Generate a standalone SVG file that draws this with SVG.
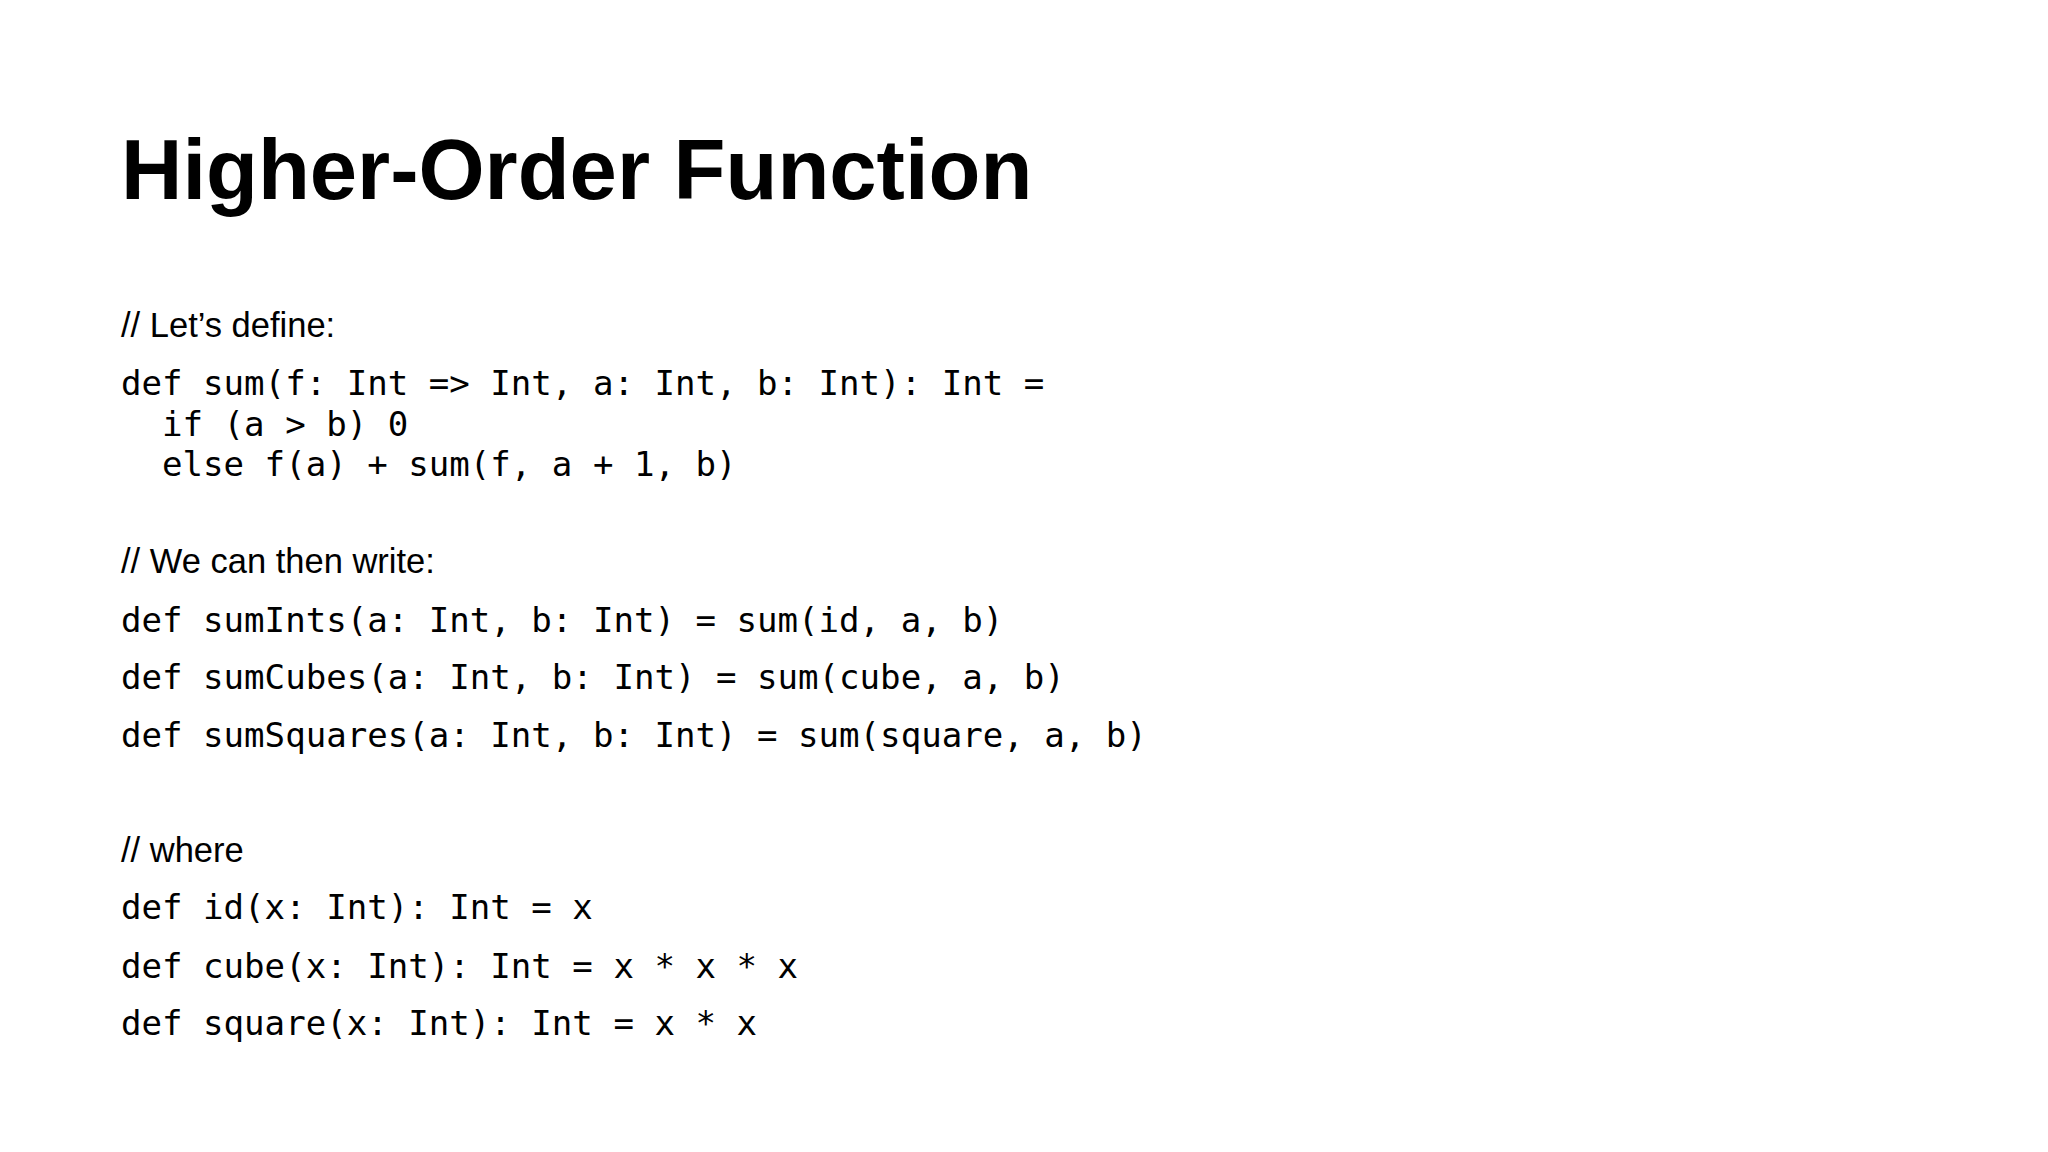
<svg xmlns="http://www.w3.org/2000/svg" width="2048" height="1152" viewBox="0 0 2048 1152">
<style>
.t{font-family:"Liberation Sans",Arial,sans-serif;font-weight:bold;font-size:85px;fill:#000}
.c{font-family:"Liberation Sans",Arial,sans-serif;font-size:34.5px;fill:#000}
.m{font-family:"DejaVu Sans Mono",monospace;font-size:34.1px;fill:#000;white-space:pre}
</style>
<rect width="2048" height="1152" fill="#fff"/>
<text class="t" x="121" y="199">Higher-Order Function</text>
<text class="c" x="121" y="337">// Let’s define:</text>
<text class="m" x="121" y="395" xml:space="preserve">def sum(f: Int =&gt; Int, a: Int, b: Int): Int =</text>
<text class="m" x="121" y="436" xml:space="preserve">  if (a &gt; b) 0</text>
<text class="m" x="121" y="476" xml:space="preserve">  else f(a) + sum(f, a + 1, b)</text>
<text class="c" x="121" y="573">// We can then write:</text>
<text class="m" x="121" y="632">def sumInts(a: Int, b: Int) = sum(id, a, b)</text>
<text class="m" x="121" y="689">def sumCubes(a: Int, b: Int) = sum(cube, a, b)</text>
<text class="m" x="121" y="747">def sumSquares(a: Int, b: Int) = sum(square, a, b)</text>
<text class="c" x="121" y="862">// where</text>
<text class="m" x="121" y="919">def id(x: Int): Int = x</text>
<text class="m" x="121" y="978">def cube(x: Int): Int = x * x * x</text>
<text class="m" x="121" y="1035">def square(x: Int): Int = x * x</text>
</svg>
